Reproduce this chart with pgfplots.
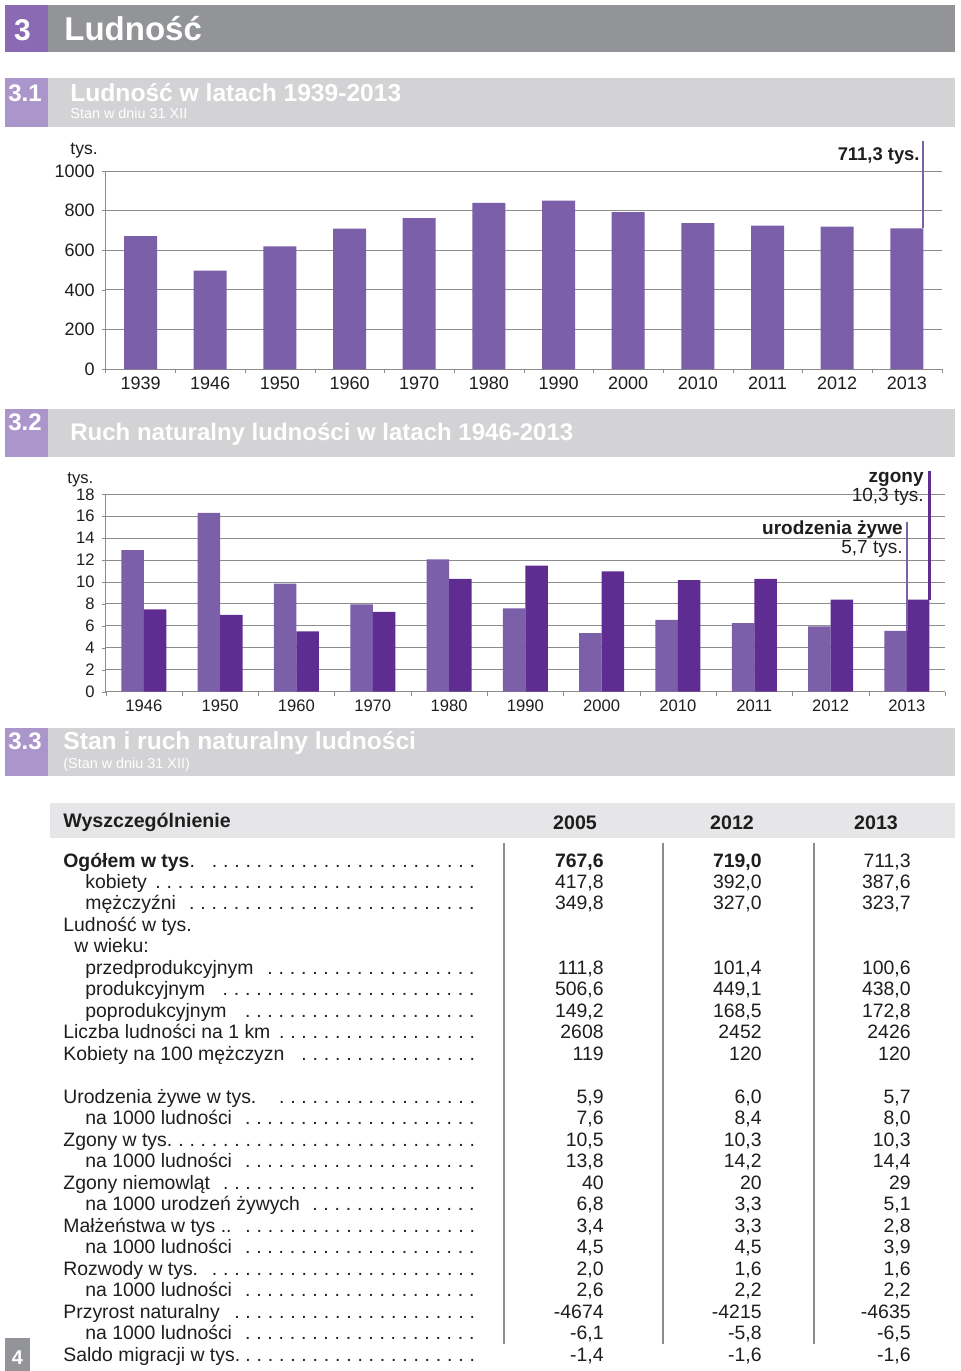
\documentclass[border=0pt]{standalone}
\usepackage{pgfplots}
\pgfplotsset{compat=1.18}
\usepackage{fontspec}
\setmainfont{Liberation Sans}
\definecolor{hdpurple}{HTML}{8A6AB2}
\definecolor{hdgrey}{HTML}{939497}
\definecolor{secpurple}{HTML}{AB96CB}
\definecolor{secgrey}{HTML}{D3D3D5}
\definecolor{tabgrey}{HTML}{E6E6E8}
\definecolor{barA}{HTML}{7B5FA9}
\definecolor{barB}{HTML}{5F2C92}
\definecolor{gridc}{HTML}{8C8C8C}
\definecolor{txt}{HTML}{1E1E1E}
\newcommand\lead[2]{\hbox to #1{#2\leaders\hbox to 5.6pt{\hss.\hss}\hfill}}
\newcommand\fs[1]{\fontsize{#1}{#1}\selectfont}
\pgfplotstableread{
x v
0 672
1 497
2 620
3 709
4 763
5 839
6 850
7 793
8 737
9 725
10 719
11 711.3
}\ludnosc
\pgfplotstableread{
x ur zg
0 12.9 7.5
1 16.3 7.0
2 9.85 5.5
3 7.97 7.27
4 12.07 10.3
5 7.6 11.5
6 5.35 10.97
7 6.56 10.18
8 6.26 10.3
9 5.96 8.4
10 5.55 8.4
}\ruch
\begin{document}
\begin{tikzpicture}
\path[use as bounding box] (0,0) rectangle (480pt,-685.5pt);
\fill[white] (0,0) rectangle (480pt,-685.5pt);
\begin{scope}[x=0.5pt,y=-0.5pt,every node/.style={inner sep=0pt,text=txt}]
% page header
\fill[hdpurple] (5,5) rectangle (48,52);
\fill[hdgrey] (48,5) rectangle (955,52);
\node[anchor=base,text=white] at (22.5,40) {\fs{15pt}\bfseries 3};
\node[anchor=base west,text=white] at (64,40) {\fs{16.5pt}\bfseries Ludność};
% 3.1
\fill[secpurple] (5,78) rectangle (48,127);
\fill[secgrey] (48,78) rectangle (955,127);
\node[anchor=base west,text=white] at (8,101) {\fs{12pt}\bfseries 3.1};
\node[anchor=base west,text=white] at (70,101.5) {\fs{12.3pt}\bfseries Ludność w latach 1939-2013};
\node[anchor=base west,text=white] at (70,118.5) {\fs{7.2pt}Stan w dniu 31 XII};
% 3.2
\fill[secpurple] (5,409) rectangle (48,457);
\fill[secgrey] (48,409) rectangle (955,457);
\node[anchor=base west,text=white] at (8,430) {\fs{12pt}\bfseries 3.2};
\node[anchor=base west,text=white] at (70,440.5) {\fs{12pt}\bfseries Ruch naturalny ludności w latach 1946-2013};
% 3.3
\fill[secpurple] (5,728) rectangle (48,776);
\fill[secgrey] (48,728) rectangle (955,776);
\node[anchor=base west,text=white] at (8,749.5) {\fs{12pt}\bfseries 3.3};
\node[anchor=base west,text=white] at (63,749.5) {\fs{12.3pt}\bfseries Stan i ruch naturalny ludności};
\node[anchor=base west,text=white] at (63,768) {\fs{7.2pt}(Stan w dniu 31 XII)};
% page number
\fill[hdgrey] (5,1338) rectangle (30,1371);
\node[anchor=base,text=white] at (17.5,1364) {\fs{10pt}\bfseries 4};
\end{scope}

% ---------- chart 1
\begin{axis}[
  at={(52.85pt,-184.65pt)}, anchor=south west,
  scale only axis, width=418pt, height=99.15pt,
  ybar, bar width=16.5pt, clip=false,
  xmin=-0.5, xmax=11.5, ymin=0, ymax=1000,
  ytick={0,200,...,1000},
  xtick={0,...,11},
  xticklabels={1939,1946,1950,1960,1970,1980,1990,2000,2010,2011,2012,2013},
  minor xtick={-0.5,0.5,...,11.5},
  axis lines*=left, axis line style={gridc, line width=0.6pt},
  ymajorgrids, grid style={gridc, line width=0.5pt},
  tick align=outside, major tick length=2pt, minor tick length=2pt,
  major x tick style={draw=none}, minor x tick style={gridc},
  ytick style={gridc},
  tick label style={font=\fs{9pt}, text=txt},
  /pgf/number format/assume math mode=true,
  /pgf/number format/1000 sep={},
  xticklabel style={yshift=1.5pt},
]
\addplot[fill=barA, draw=none] table[x=x,y=v] {\ludnosc};
\draw[barA, line width=1pt] (axis cs:11.237,711.3) -- (axis cs:11.237,1153);
\end{axis}

% ---------- chart 2
\begin{axis}[
  at={(52.85pt,-345.85pt)}, anchor=south west,
  scale only axis, width=419.65pt, height=98.7pt,
  ybar=0pt, bar width=11.25pt, clip=false,
  xmin=-0.5, xmax=10.5, ymin=0, ymax=18,
  ytick={0,2,...,18},
  xtick={0,...,10},
  xticklabels={1946,1950,1960,1970,1980,1990,2000,2010,2011,2012,2013},
  minor xtick={-0.5,0.5,...,10.5},
  axis lines*=left, axis line style={gridc, line width=0.6pt},
  ymajorgrids, grid style={gridc, line width=0.5pt},
  tick align=outside, major tick length=2pt, minor tick length=2pt,
  major x tick style={draw=none}, minor x tick style={gridc},
  ytick style={gridc},
  tick label style={font=\fs{8.3pt}, text=txt},
  /pgf/number format/assume math mode=true,
  xticklabel style={yshift=1.5pt},
]
\addplot[fill=barA, draw=none] table[x=x,y=ur] {\ruch};
\addplot[fill=barB, draw=none] table[x=x,y=zg] {\ruch};
\draw[barA, line width=1pt] (axis cs:10,5.55) -- (axis cs:10,15.5);
\draw[barB, line width=1.2pt] (axis cs:10.295,8.4) -- (axis cs:10.295,20.1);
\end{axis}

\begin{scope}[x=0.5pt,y=-0.5pt,every node/.style={inner sep=0pt,text=txt}]
% chart labels
\node[anchor=base west] at (70,154) {\fs{8.8pt}tys.};
\node[anchor=base east] at (920,160) {\fs{9.2pt}\bfseries 711,3 tys.};
\node[anchor=base west] at (67,483) {\fs{8.3pt}tys.};
\node[anchor=base east] at (924,482) {\fs{9.5pt}\bfseries zgony};
\node[anchor=base east] at (924,501) {\fs{9.5pt}10,3 tys.};
\node[anchor=base east] at (903,534) {\fs{9.5pt}\bfseries urodzenia żywe};
\node[anchor=base east] at (903,553) {\fs{9.5pt}5,7 tys.};
% table
\fill[tabgrey] (50,803) rectangle (955,838);
\node[anchor=base west] at (63,827) {\fs{9.8pt}\bfseries Wyszczególnienie};
\node[anchor=base] at (575,829) {\fs{9.8pt}\bfseries 2005};
\node[anchor=base] at (732,829) {\fs{9.8pt}\bfseries 2012};
\node[anchor=base] at (876,829) {\fs{9.8pt}\bfseries 2013};
\foreach \xx in {504,663,814} \draw[gridc, line width=1pt] (\xx,843) -- (\xx,1344);
\end{scope}

\begin{scope}[x=0.5pt,y=-0.5pt,every node/.style={inner sep=0pt,text=txt,font=\fs{9.7pt}}]
\newcommand\rM[2]{\node[anchor=base west] at (63,#1) {\lead{212pt}{#2}};}
\newcommand\rI[2]{\node[anchor=base west] at (85,#1) {\lead{201pt}{#2}};}
\newcommand\vv[4]{\node[anchor=base east] at (604,#1) {#2};\node[anchor=base east] at (762,#1) {#3};\node[anchor=base east] at (911,#1) {#4};}
\rM{867}{\textbf{Ogółem w tys}. \ }
\vv{867}{\textbf{767,6}}{\textbf{719,0}}{711,3}
\rI{888.45}{kobiety }
\vv{888.45}{417,8}{392,0}{387,6}
\rI{909.9}{mężczyźni }
\vv{909.9}{349,8}{327,0}{323,7}
\node[anchor=base west] at (63,931.35) {Ludność w tys.};
\node[anchor=base west] at (74,952.8) {w wieku:};
\rI{974.25}{przedprodukcyjnym }
\vv{974.25}{111,8}{101,4}{100,6}
\rI{995.7}{produkcyjnym }
\vv{995.7}{506,6}{449,1}{438,0}
\rI{1017.15}{poprodukcyjnym }
\vv{1017.15}{149,2}{168,5}{172,8}
\rM{1038.6}{Liczba ludności na 1 km }
\vv{1038.6}{2608}{2452}{2426}
\rM{1060.05}{Kobiety na 100 mężczyzn }
\vv{1060.05}{119}{120}{120}
\rM{1103.3}{Urodzenia żywe w tys. \ \ }
\vv{1103.3}{5,9}{6,0}{5,7}
\rI{1124.8}{na 1000 ludności }
\vv{1124.8}{7,6}{8,4}{8,0}
\rM{1146.3}{Zgony w tys.}
\vv{1146.3}{10,5}{10,3}{10,3}
\rI{1167.7}{na 1000 ludności }
\vv{1167.7}{13,8}{14,2}{14,4}
\rM{1189.2}{Zgony niemowląt }
\vv{1189.2}{40}{20}{29}
\rI{1210.7}{na 1000 urodzeń żywych}
\vv{1210.7}{6,8}{3,3}{5,1}
\rM{1232.2}{Małżeństwa w tys ..}
\vv{1232.2}{3,4}{3,3}{2,8}
\rI{1253.7}{na 1000 ludności }
\vv{1253.7}{4,5}{4,5}{3,9}
\rM{1275.1}{Rozwody w tys.}
\vv{1275.1}{2,0}{1,6}{1,6}
\rI{1296.6}{na 1000 ludności }
\vv{1296.6}{2,6}{2,2}{2,2}
\rM{1318.1}{Przyrost naturalny }
\vv{1318.1}{-4674}{-4215}{-4635}
\rI{1339.6}{na 1000 ludności }
\vv{1339.6}{-6,1}{-5,8}{-6,5}
\rM{1361.1}{Saldo migracji w tys.}
\vv{1361.1}{-1,4}{-1,6}{-1,6}
\end{scope}
\end{tikzpicture}
\end{document}
